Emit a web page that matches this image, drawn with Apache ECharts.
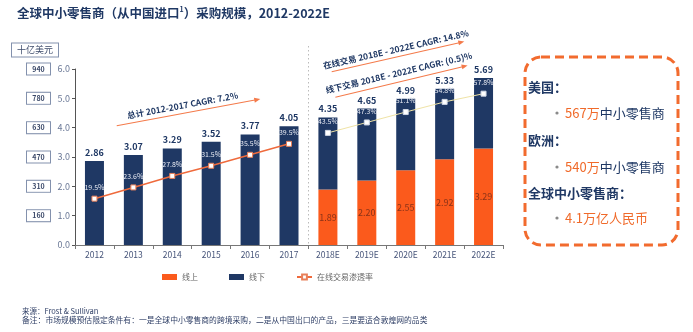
<!DOCTYPE html>
<html>
<head>
<meta charset="utf-8">
<script src="https://cdn.jsdelivr.net/npm/echarts@6/dist/echarts.min.js"></script>
<style>
html,body{margin:0;padding:0;background:#fff;}
#c{width:693px;height:332px;}
</style>
</head>
<body>
<div id="c"></div>
<script>
const categories = ['2012','2013','2014','2015','2016','2017','2018E','2019E','2020E','2021E','2022E'];
const totals = [2.86,3.07,3.29,3.52,3.77,4.05,4.35,4.65,4.99,5.33,5.69];
const online = [null,null,null,null,null,null,1.89,2.20,2.55,2.92,3.29];
const penetrationHist = [19.5,23.6,27.8,31.5,35.5,39.5,null,null,null,null,null];
const penetrationFcst = [null,null,null,null,null,null,43.5,47.3,51.1,54.8,57.8];
const rmbTicks = ['','160','310','470','630','780','940'];
const offline = totals.map((t,i)=> online[i]==null ? t : +(t-online[i]).toFixed(2));

const FONT = '"Noto Sans CJK SC", "Noto Sans", sans-serif';
const NAVY = '#1f3864';
const ORANGE = '#fb5a1c';

const chart = echarts.init(document.getElementById('c'), null, {renderer:'canvas'});

const option = {
  backgroundColor:'#fff',
  textStyle:{fontFamily:FONT},
  animation:false,
  grid:{left:75, right:190, top:69, bottom:87, containLabel:false},
  legend:{
    left:157, top:268, itemWidth:15, itemHeight:6, itemGap:31,
    textStyle:{fontSize:8, color:'#666', fontFamily:FONT},
    data:[{name:'线上', icon:'rect'},{name:'线下', icon:'rect'},{name:'在线交易渗透率'}]
  },
  xAxis:{
    type:'category', data:categories, boundaryGap:true,
    axisLine:{lineStyle:{color:'#777', width:1}},
    axisTick:{show:true, length:4, lineStyle:{color:'#777'}},
    axisLabel:{fontSize:8.5, color:'#47557a', margin:6, fontFamily:FONT}
  },
  yAxis:[
    {type:'value', min:0, max:6, interval:1, position:'left',
     axisLine:{show:true, lineStyle:{color:'#555', width:1}},
     axisTick:{show:true, length:3, lineStyle:{color:'#555'}},
     axisLabel:{fontSize:9, color:'#6a7896', margin:5, formatter:v=>v.toFixed(1), fontFamily:FONT},
     splitLine:{show:false}},
    {type:'value', min:0, max:6, interval:1, position:'left',
     axisLine:{show:false}, axisTick:{show:false}, splitLine:{show:false},
     axisLabel:{margin:25, formatter:v=>{const s=rmbTicks[Math.round(v)]; return s? '{b|'+s+'}':'';},
       rich:{b:{fontSize:7, fontWeight:'bold', color:'#3c4a6a', width:17, align:'center',
         borderColor:'#8391ad', borderWidth:1, padding:[2,3,2,3], backgroundColor:'#fff', fontFamily:FONT}}}},
    {type:'value', min:2.6, max:66.8, show:false, position:'right'}
  ],
  series:[
    {name:'线上', type:'bar', stack:'t', data:online, barWidth:19,
     itemStyle:{color:ORANGE},
     label:{show:true, position:'inside', fontSize:9, color:'#8b3318', fontFamily:FONT,
       formatter:p=> p.value==null?'':Number(p.value).toFixed(2)}},
    {name:'线下', type:'bar', stack:'t', data:offline, barWidth:19,
     itemStyle:{color:NAVY},
     label:{show:true, position:'top', distance:4, fontSize:9, fontWeight:'bold', color:NAVY, fontFamily:FONT,
       formatter:p=> totals[p.dataIndex].toFixed(2)}},
    {name:'在线交易渗透率', type:'line', yAxisIndex:2, data:penetrationHist, connectNulls:false,
     symbol:'rect', symbolSize:5, showAllSymbol:true,
     lineStyle:{color:'#ef6a3c', width:1.5}, itemStyle:{color:'#fff', borderColor:'#e8805a', borderWidth:1},
     label:{show:true, position:'top', distance:5, fontSize:7, color:'#e6e9f2', fontFamily:FONT,
       formatter:p=> p.value==null?'':Number(p.value).toFixed(1)+'%'}, z:5},
    {name:'在线交易渗透率(预测)', type:'line', yAxisIndex:2, data:penetrationFcst, connectNulls:false,
     symbol:'rect', symbolSize:5, showAllSymbol:true,
     lineStyle:{color:'#efe3a6', width:1}, itemStyle:{color:'#fff', borderColor:'#cfd6e4', borderWidth:1},
     label:{show:true, position:'top', distance:5, fontSize:7, color:'#e6e9f2', fontFamily:FONT,
       formatter:p=> p.value==null?'':Number(p.value).toFixed(1)+'%'}, z:5}
  ]
};
chart.setOption(option);

function arrowNote(ax, ay, len, deg, text, tdx, tdy){
  const h = len/2;
  return {type:'group', x:ax, y:ay, rotation:deg*Math.PI/180, children:[
    {type:'line', shape:{x1:-h,y1:0,x2:h-3,y2:0}, style:{stroke:'#f47a4a', lineWidth:1}},
    {type:'polygon', shape:{points:[[h+1,0],[h-5,-2.5],[h-5,2.5]]}, style:{fill:'#f47a4a'}},
    {type:'text', x:tdx, y:tdy, style:{text:text, font:'bold 8.5px '+FONT, fill:NAVY, textAlign:'center', textVerticalAlign:'middle'}}
  ]};
}

const x5 = chart.convertToPixel({xAxisIndex:0}, categories[5]);
const x6 = chart.convertToPixel({xAxisIndex:0}, categories[6]);
const sepX = Math.round((x5+x6)/2)+0.5;
const y0 = chart.convertToPixel({yAxisIndex:0}, 0);

function bulletLine(x, y, rich, text){
  return {type:'group', children:[
    {type:'circle', shape:{cx:x+2, cy:y, r:1.6}, style:{fill:'#8a8a8a'}},
    {type:'text', x:x+10, y:y, style:{text:text, textVerticalAlign:'middle', rich:rich}}
  ]};
}
const boxRich = {o:{font:'13px '+FONT, fill:'#f06a2a'}, n:{font:'13px '+FONT, fill:NAVY}};

const graphics = [
  {type:'text', x:17, y:13, style:{
    text:'{t|全球中小零售商（从中国进口}{s|1}{t|）采购规模，2012-2022E}',
    rich:{t:{font:'bold 12.5px '+FONT, fill:NAVY}, s:{font:'bold 7px '+FONT, fill:NAVY, padding:[0,0,7,0]}},
    textVerticalAlign:'middle'}},
  {type:'text', x:35, y:50, style:{text:'十亿美元', font:'9px '+FONT, fill:'#3c4a6a', textAlign:'center', textVerticalAlign:'middle',
    borderColor:'#8391ad', borderWidth:1, padding:[2,5,2,5], backgroundColor:'#fff'}},
  {type:'line', shape:{x1:sepX, y1:46, x2:sepX, y2:y0}, style:{stroke:'#bbb', lineWidth:1, lineDash:[1.5,2.5]}},
  arrowNote(188, 112.5, 145, 10.5, '总计 2012-2017 CAGR: 7.2%', -4, -8),
  arrowNote(397.5, 56.7, 135, 12.8, '在线交易 2018E - 2022E CAGR: 14.8%', 0, -7.5),
  arrowNote(401, 81.5, 135, 13.5, '线下交易 2018E - 2022E CAGR: (0.5)%', 0, -9),
  {type:'rect', shape:{x:525, y:57, width:153, height:188, r:16}, style:{fill:'none', stroke:'#f26b2e', lineWidth:3, lineDash:[9,5]}},
  {type:'text', x:528, y:87, style:{text:'美国：', font:'bold 13px '+FONT, fill:NAVY, textVerticalAlign:'middle'}},
  bulletLine(555, 113, boxRich, '{o|567万}{n|中小零售商}'),
  {type:'text', x:528, y:140, style:{text:'欧洲：', font:'bold 13px '+FONT, fill:NAVY, textVerticalAlign:'middle'}},
  bulletLine(555, 167, boxRich, '{o|540万}{n|中小零售商}'),
  {type:'text', x:528, y:193, style:{text:'全球中小零售商：', font:'bold 13px '+FONT, fill:NAVY, textVerticalAlign:'middle'}},
  bulletLine(555, 218, boxRich, '{o|4.1万亿人民币}'),
  {type:'text', x:22, y:311, style:{text:'来源：Frost & Sullivan', font:'7.5px '+FONT, fill:'#2f3f66', textVerticalAlign:'middle'}},
  {type:'text', x:22, y:320, style:{text:'备注：市场规模预估限定条件有：一是全球中小零售商的跨境采购，二是从中国出口的产品，三是要适合敦煌网的品类', font:'7.8px '+FONT, fill:'#2f3f66', textVerticalAlign:'middle'}}
];
chart.setOption({graphic:graphics});
</script>
</body>
</html>
